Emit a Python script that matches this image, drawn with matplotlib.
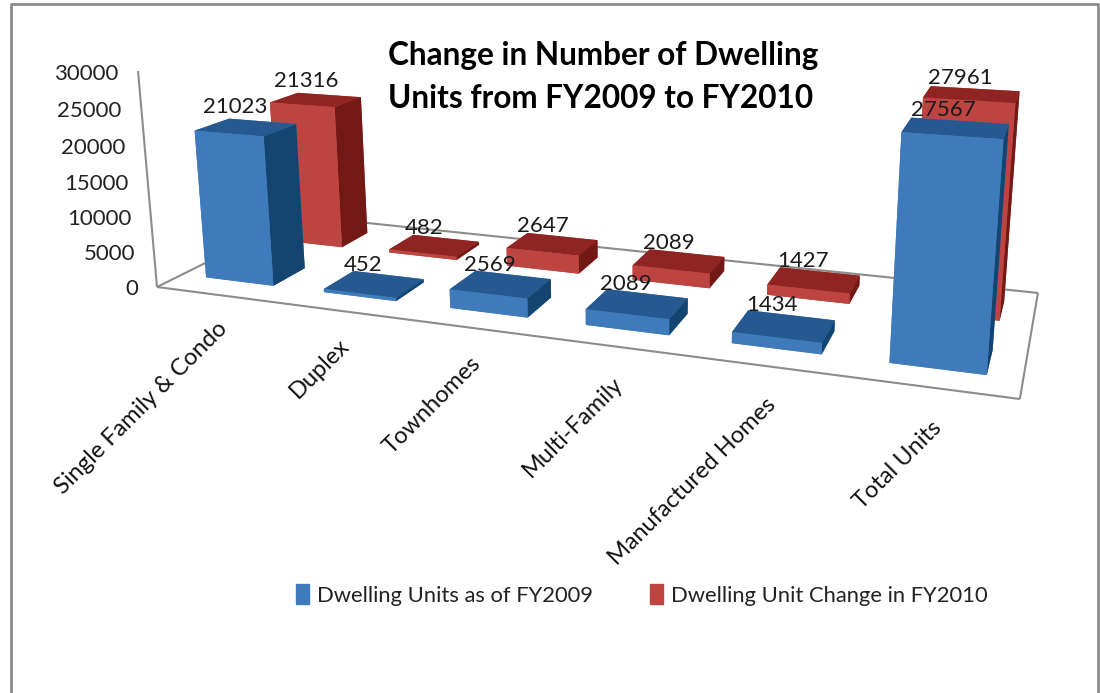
import numpy as np
import matplotlib
matplotlib.use("Agg")
from matplotlib import pyplot as plt
from matplotlib.patches import Patch
from mpl_toolkits.mplot3d.art3d import Line3DCollection

plt.rcParams['font.family'] = ['Lato', 'DejaVu Sans']

categories = ["Single Family & Condo", "Duplex", "Townhomes", "Multi-Family",
              "Manufactured Homes", "Total Units"]
units_2009 = [21023, 452, 2569, 2089, 1434, 27567]
change_2010 = [21316, 482, 2647, 2089, 1427, 27961]
z_ticks = [0, 5000, 10000, 15000, 20000, 25000, 30000]
series_names = ["Dwelling Units as of FY2009", "Dwelling Unit Change in FY2010"]

W, H = 1100, 693
ZMAX = 30000

# how far above its bar each value label sits
label_lift = [2700, 2500, 2500, 2500, 2500, 1950]

# camera: (category/6, depth, value/30000, 1) -> pixels
camera = np.array([
    [655.3, 195.3, -24.4, 157.0],
    [30.8, -33.4, -218.7, 287.0],
    [-0.2035, 0.1743, -0.0394, 1.0],
]) @ np.diag([1 / 6, 1, 1 / ZMAX, 1])


def to_px(x, y, z):
    p = camera @ np.array([x, y, z, 1.0])
    return p[0] / p[2], p[1] / p[2]


fig = plt.figure(figsize=(W / 100, H / 100), dpi=100)
ax = fig.add_axes([0, (1 - W / H) / 2, 1, W / H], projection='3d')
ax.set_axis_off()
ax.computed_zorder = False
ax.set_autoscale_on(False)
ax.set_xlim(0, 6)
ax.set_ylim(0, 1)
ax.set_zlim(0, ZMAX)


def picture_proj():
    # Excel's 3D view does not fit view_init, so hand mplot3d the matrix directly
    flip = np.array([[1, 0, 0], [0, -1, H], [0, 0, 1.0]])
    q = ax.transData.inverted().get_matrix() @ flip @ camera
    depth = q[2] - np.array([0, 0, 0, 0.5])
    return np.vstack([q[0], q[1], depth, q[2]])


ax.get_proj = picture_proj

# floor and value axis
grey = '#8c8c8c'
frame = [[(0, 0, 0), (6, 0, 0)], [(6, 0, 0), (6, 1, 0)], [(6, 1, 0), (0, 1, 0)],
         [(0, 1, 0), (0, 0, 0)], [(0, 0, 0), (0, 0, ZMAX)]]
ax.add_collection3d(Line3DCollection(frame, colors=grey, linewidths=1.5, zorder=1))

# flat layer in picture pixels for all the text and the outer border
over = fig.add_axes([0, 0, 1, 1])
over.set_xlim(0, W)
over.set_ylim(H, 0)
over.axis('off')
over.patch.set_alpha(0)

# bars: faces are bottom, top, front, back, left, right
blue = ['#3f7bbb', '#26598f', '#3f7bbb', '#3f7bbb', '#3f7bbb', '#134570']
red = ['#be4441', '#8e2522', '#be4441', '#be4441', '#be4441', '#721815']
xs = np.arange(6) + 0.21
for vals, y0, dep, cols, zo in [(change_2010, 0.66, 0.21, red, 2),
                                (units_2009, 0.155, 0.22, blue, 3)]:
    ax.bar3d(xs, [y0] * 6, [0] * 6, [0.58] * 6, [dep] * 6, vals, color=cols * 6,
             shade=False, linewidth=0, zorder=zo)
    for i, v in enumerate(vals):
        px, py = to_px(i + 0.42, y0 + dep / 2, v + label_lift[i])
        over.text(px, py, str(v), ha='center', va='center', fontsize=16, color='#1a1a1a')

for t in z_ticks:
    px, py = to_px(-0.17, 0, t - 600)
    over.text(px, py, str(t), ha='right', va='center', fontsize=16, color='#222222')

for i, name in enumerate(categories):
    px, py = to_px(i + 0.55, 0, -4300)
    over.text(px, py, name, rotation=45, ha='right', va='center', rotation_mode='anchor',
              fontsize=17, color='#111111')

over.text(388, 77, "Change in Number of Dwelling\nUnits from FY2009 to FY2010", ha='left', va='center',
          fontsize=22.7, fontweight='bold', color='black', linespacing=1.6)
over.plot([11, 11, 1098, 1098], [H, 4, 4, H], color='#8c8c8c', lw=2)

handles = [Patch(color='#3f7bbb'), Patch(color='#be4441')]
over.legend(handles, series_names, ncol=2, loc='center', bbox_to_anchor=(642, 595),
            bbox_transform=over.transData, frameon=False, fontsize=15.8,
            handlelength=0.6, handleheight=1.0, handletextpad=0.35, columnspacing=2.6,
            labelcolor='#222222')

fig.savefig('out.png', dpi=100)
